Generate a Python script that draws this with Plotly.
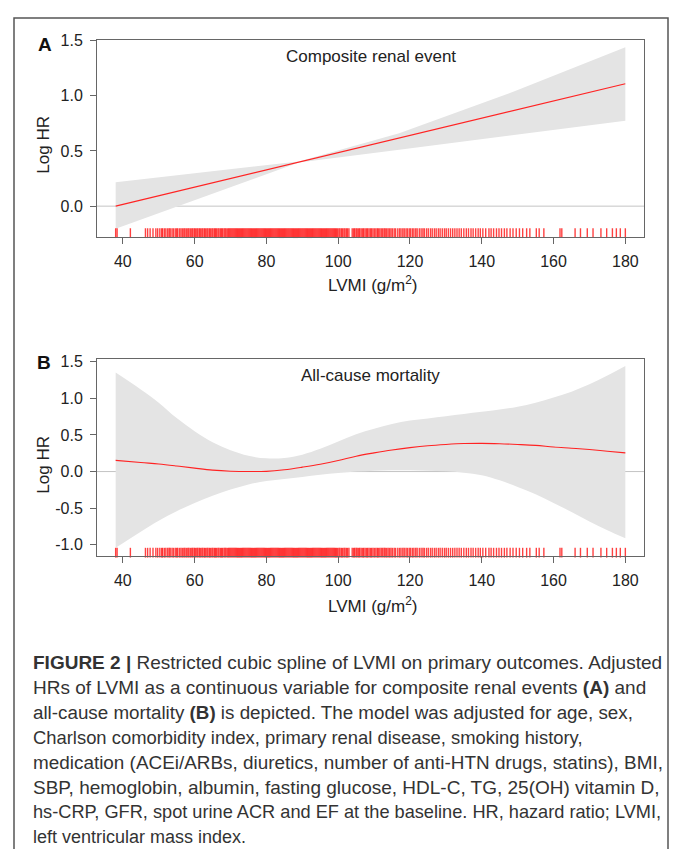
import plotly.graph_objects as go

W, H = 673, 849

# ---------------- data ----------------
# Panel A: composite renal event
a_x = [38, 60, 89, 117, 150, 180]
a_fit = [0.0, 0.172, 0.40, 0.617, 0.874, 1.108]
a_upper = [0.216, 0.295, 0.405, 0.66, 1.05, 1.437]
a_lower = [-0.204, 0.056, 0.395, 0.51, 0.65, 0.773]

# Panel B: all-cause mortality
b_x = [38, 45, 50, 55, 60, 65, 70, 75, 80, 85, 90, 95, 100, 105, 110, 115, 120,
       125, 130, 135, 140, 145, 150, 155, 160, 165, 170, 175, 180]
b_fit = [0.153, 0.123, 0.104, 0.077, 0.047, 0.02, 0.005, 0.0, 0.003, 0.025, 0.06,
         0.10, 0.15, 0.21, 0.255, 0.295, 0.327, 0.353, 0.37, 0.382, 0.385, 0.38,
         0.37, 0.357, 0.335, 0.318, 0.3, 0.278, 0.255]
b_upper = [1.35, 1.12, 0.94, 0.73, 0.55, 0.40, 0.29, 0.215, 0.18, 0.185, 0.23,
           0.31, 0.41, 0.51, 0.585, 0.65, 0.695, 0.725, 0.755, 0.785, 0.815,
           0.845, 0.885, 0.94, 1.01, 1.09, 1.19, 1.31, 1.44]
b_lower = [-1.04, -0.82, -0.67, -0.54, -0.43, -0.33, -0.245, -0.175, -0.13, -0.10,
           -0.075, -0.045, -0.02, 0.0, 0.012, 0.018, 0.018, 0.01, 0.003, -0.015,
           -0.05, -0.12, -0.21, -0.31, -0.43, -0.55, -0.68, -0.8, -0.91]

# Observed LVMI values (rug)
rug_lvmi = [
    38.0, 38.4, 42.1, 46.3, 46.9, 47.6, 48.4, 49.2, 49.7,
    50.3, 50.8, 51.1, 51.6, 52.0, 52.5, 52.9, 53.2, 53.7, 54.1, 54.6, 55.0, 55.3,
    55.8, 56.2, 56.6, 57.0, 57.3, 57.7, 58.1, 58.4, 58.8, 59.2, 59.5, 59.9,
    60.2, 60.6, 60.9, 61.3, 61.6, 62.0, 62.3, 62.7, 63.0, 63.4, 63.7, 64.1, 64.4,
    64.8, 65.1, 65.5, 65.8, 66.1, 66.5, 66.8, 67.2, 67.5, 67.8, 68.2, 68.5, 68.8,
    69.2, 69.5, 69.8,
    70.1, 70.4, 70.7, 71.0, 71.3, 71.6, 71.9, 72.2, 72.5, 72.8, 73.1, 73.4, 73.7,
    74.0, 74.3, 74.6, 74.9, 75.2, 75.5, 75.8, 76.1, 76.4, 76.7, 77.0, 77.3, 77.6,
    77.9, 78.2, 78.5, 78.8, 79.1, 79.4, 79.7, 80.0, 80.3, 80.6, 80.9, 81.2, 81.5,
    81.8, 82.1, 82.4, 82.7, 83.0, 83.3, 83.6, 83.9, 84.2, 84.5, 84.8, 85.1, 85.4,
    85.7, 86.0, 86.3, 86.6, 86.9, 87.2, 87.5, 87.8, 88.1, 88.4, 88.7, 89.0, 89.3,
    89.6, 89.9, 90.2, 90.5, 90.8, 91.1, 91.4, 91.7, 92.0, 92.3, 92.6, 92.9, 93.2,
    93.5, 93.8, 94.1, 94.4, 94.7, 95.0, 95.3, 95.6, 95.9, 96.2, 96.5, 96.8, 97.1,
    97.4, 97.7, 98.0, 98.3, 98.6, 98.9, 99.2, 99.5, 99.8,
    100.2, 100.5, 100.9, 101.2, 101.6, 101.9, 102.3, 102.6, 103.0, 103.9, 104.3,
    104.6, 105.0, 105.3, 105.7, 106.0, 106.4, 106.8, 107.1, 107.5, 107.9, 108.2,
    108.6, 109.0, 109.3, 109.7, 110.1, 110.5, 110.9, 111.2, 111.6, 112.0, 112.4,
    112.8, 113.1, 113.5, 113.9, 114.3, 114.7,
    115.1, 115.6, 116.0, 116.6, 117.1, 117.5, 118.0, 118.4, 118.9, 119.3, 119.8,
    120.2, 120.7, 121.1, 121.6, 122.0, 122.6, 123.1, 123.6, 124.0, 124.6, 125.1,
    125.7, 126.2, 126.8, 127.3, 127.9, 128.4, 129.0, 129.6, 130.1, 130.7, 131.3,
    131.9, 132.5, 133.1, 133.7, 134.3, 135.0, 135.7, 136.3, 137.0, 137.6, 138.3,
    139.0, 139.6,
    140.3, 141.1, 142.0, 142.6, 143.3, 144.1, 144.8, 145.5, 146.3, 147.0, 147.9,
    148.7, 149.6, 150.5, 151.4, 152.5, 153.4, 155.2, 156.0, 157.3, 161.8, 162.3,
    166.0, 167.5, 169.4, 171.0, 173.2, 174.8, 176.4, 177.5, 178.6, 180.0,
]

x_ticks = [40, 60, 80, 100, 120, 140, 160, 180]
a_yticks = [0.0, 0.5, 1.0, 1.5]
a_ytick_text = ["0.0", "0.5", "1.0", "1.5"]
b_yticks = [-1.0, -0.5, 0.0, 0.5, 1.0, 1.5]
b_ytick_text = ["-1.0", "-0.5", "0.0", "0.5", "1.0", "1.5"]

caption_lines = [
    "<b>FIGURE 2 |</b> Restricted cubic spline of LVMI on primary outcomes. Adjusted",
    "HRs of LVMI as a continuous variable for composite renal events <b>(A)</b> and",
    "all-cause mortality <b>(B)</b> is depicted. The model was adjusted for age, sex,",
    "Charlson comorbidity index, primary renal disease, smoking history,",
    "medication (ACEi/ARBs, diuretics, number of anti-HTN drugs, statins), BMI,",
    "SBP, hemoglobin, albumin, fasting glucose, HDL-C, TG, 25(OH) vitamin D,",
    "hs-CRP, GFR, spot urine ACR and EF at the baseline. HR, hazard ratio; LVMI,",
    "left ventricular mass index.",
]

# ---------------- styling / geometry (pixels) ----------------
FONT = "Liberation Sans, Arial, sans-serif"
def px_x(p):
    return p / W
def px_y(p):
    return 1 - p / H

X_RANGE = [32.8, 185.2]
A_RANGE = [-0.275, 1.5]
B_RANGE = [-1.153, 1.536]

BAND = "#e4e4e4"
LINE = "rgb(255,35,35)"
RUG = "rgba(255,0,0,0.75)"
AXC = "#666666"

fig = go.Figure()

def add_panel(xs, fit, up, lo, xa, ya, rug_y, shape):
    fig.add_trace(go.Scatter(
        x=xs, y=lo, mode="lines", line=dict(width=0, shape=shape),
        hoverinfo="skip", showlegend=False, xaxis=xa, yaxis=ya))
    fig.add_trace(go.Scatter(
        x=xs, y=up, mode="lines", line=dict(width=0, shape=shape),
        fill="tonexty", fillcolor=BAND,
        hoverinfo="skip", showlegend=False, xaxis=xa, yaxis=ya))
    fig.add_trace(go.Scatter(
        x=xs, y=fit, mode="lines", line=dict(color=LINE, width=1.1, shape=shape),
        showlegend=False, xaxis=xa, yaxis=ya))
    fig.add_trace(go.Scatter(
        x=rug_lvmi, y=[rug_y] * len(rug_lvmi), mode="markers",
        marker=dict(symbol="line-ns", size=7, line=dict(color=RUG, width=1.4)),
        showlegend=False, xaxis=xa, yaxis=ya, cliponaxis=False))

add_panel(a_x, a_fit, a_upper, a_lower, "x", "y", -0.2445, "linear")
add_panel(b_x, b_fit, b_upper, b_lower, "x2", "y2", -1.107, "spline")

xdom = [px_x(97), px_x(644)]
axis_common = dict(showgrid=False, zeroline=False, showline=True, linecolor=AXC,
                   linewidth=1, mirror=True, ticks="outside", ticklen=6,
                   tickcolor=AXC, tickwidth=1,
                   tickfont=dict(family=FONT, size=16, color="#222222"))

fig.update_layout(
    width=W, height=H, margin=dict(l=0, r=0, t=0, b=0),
    paper_bgcolor="white", plot_bgcolor="white", showlegend=False,
    xaxis=dict(domain=xdom, range=X_RANGE, tickvals=x_ticks, anchor="y",
               ticklabelstandoff=4, **axis_common),
    yaxis=dict(domain=[px_y(230.7), px_y(32.7)], range=A_RANGE, tickvals=a_yticks,
               ticktext=a_ytick_text, anchor="x", ticklabelstandoff=4, **axis_common),
    xaxis2=dict(domain=xdom, range=X_RANGE, tickvals=x_ticks, anchor="y2",
                ticklabelstandoff=4, **axis_common),
    yaxis2=dict(domain=[px_y(553.3), px_y(354.3)], range=B_RANGE, tickvals=b_yticks,
                ticktext=b_ytick_text, anchor="x2", ticklabelstandoff=4, **axis_common),
)

# zero reference lines
for xr, yr in (("x", "y"), ("x2", "y2")):
    fig.add_shape(type="line", xref=xr + " domain", yref=yr, x0=0, x1=1, y0=0, y1=0,
                  line=dict(color="#c4c4c4", width=1), layer="below")

# outer frame
fig.add_shape(type="rect", xref="paper", yref="paper", x0=px_x(14), x1=px_x(668),
              y0=px_y(860), y1=px_y(10), line=dict(color="#555555", width=1.5))

def ann(text, x, y, size=16, bold=False, angle=0, color="#222222", xanchor="center"):
    fig.add_annotation(text=("<b>%s</b>" % text) if bold else text, xref="paper",
                       yref="paper", x=px_x(x), y=px_y(y), xanchor=xanchor,
                       yanchor="middle", showarrow=False, textangle=angle,
                       font=dict(family=FONT, size=size, color=color))

ann("A", 45, 37, size=19, bold=True, color="#111111")
ann("B", 44, 358, size=19, bold=True, color="#111111")
ann("Composite renal event", 370.5, 49, size=17)
ann("All-cause mortality", 370.5, 371.5, size=17)
ann("Log HR", 44, 138, angle=-90, size=17)
ann("Log HR", 44, 461, angle=-90, size=17)
ann("LVMI (g/m<sup>2</sup>)", 372, 279, size=17)
ann("LVMI (g/m<sup>2</sup>)", 372, 603, size=17)

cap_y = [661, 686, 711, 736, 762, 787, 812, 837]
cap_size = [19, 19, 18.8, 18.4, 18.9, 19, 18.2, 18]
for line, yy, sz in zip(caption_lines, cap_y, cap_size):
    ann(line, 31, yy, size=sz, color="#333333", xanchor="left")

fig.write_html(
    "out.html",
    config={"displayModeBar": False},
    post_script="document.body.style.margin='0';document.body.style.padding='0';"
                "document.body.style.overflow='hidden';",
)
